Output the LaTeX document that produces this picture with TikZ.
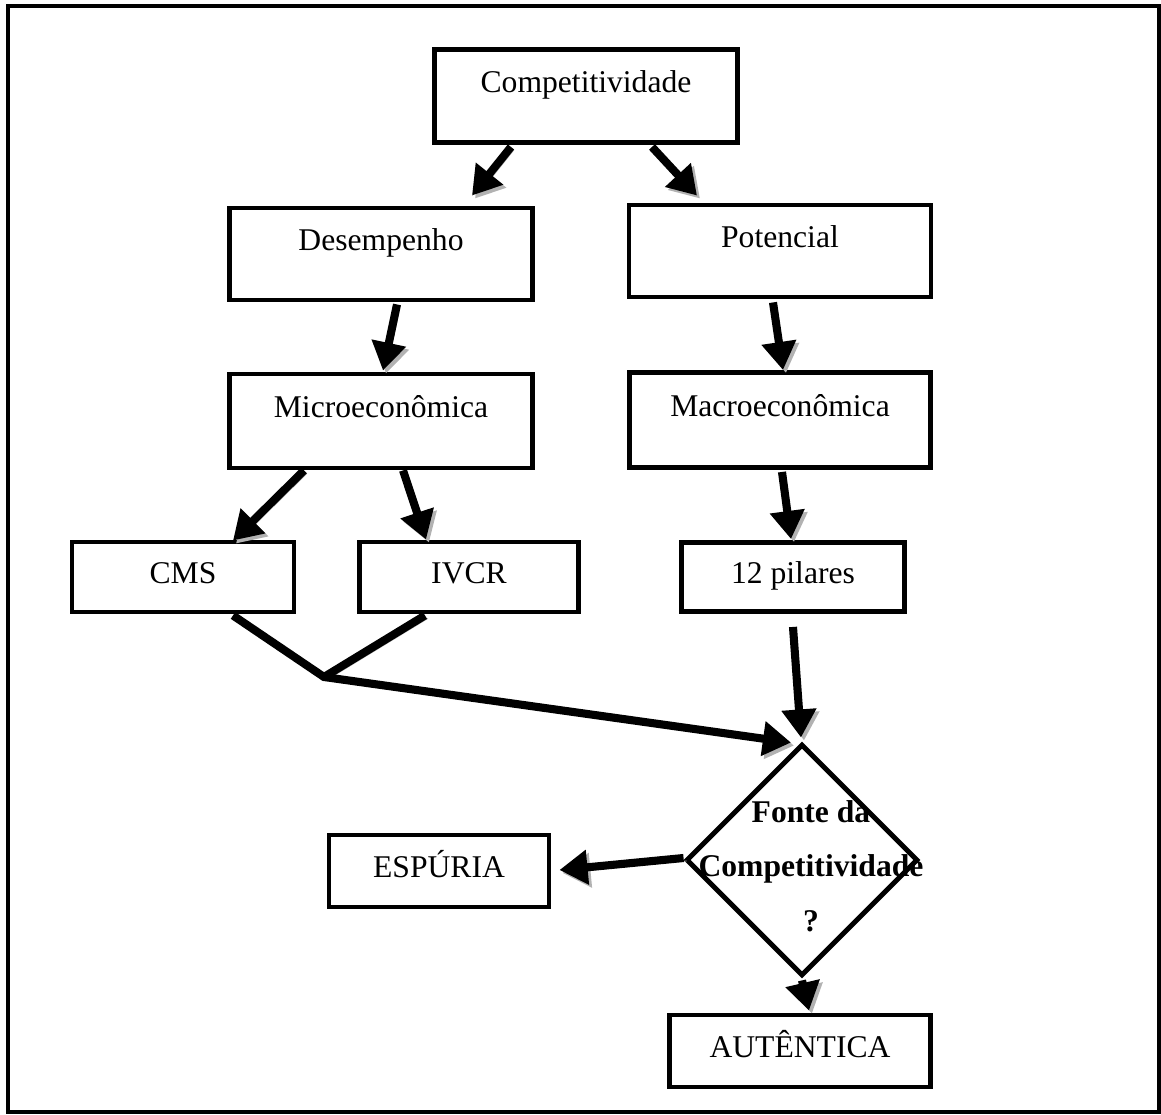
\documentclass[tikz,border=0pt]{standalone}
\usepackage{fontspec}
\setmainfont{Liberation Serif}
\usetikzlibrary{arrows.meta,shapes.geometric}

\begin{document}
\begin{tikzpicture}[x=0.02cm, y=-0.02cm, font=\fontsize{18}{22}\selectfont,
box/.style={draw, line width=2.8pt, inner sep=0pt, text height=12pt, text depth=16pt},
midbox/.style={box, text depth=4.5pt},
link/.style={line width=4.6pt, preaction={draw=gray!60, transform canvas={shift={(1.7pt,-1.7pt)}}}},
arrow/.style={link, -{Triangle[length=16pt, width=19pt]}}]
\useasboundingbox (0,0) rectangle (1161,1115);
\draw [line width=2.8pt] (8,6) rectangle (1159,1112);
% boxes: name/x/y/width/height/style/text
\foreach \name/\x/\y/\w/\h/\styl/\txt in {
  comp/586/96/303/93/box/Competitividade,
  desemp/381/254/303/92/box/Desempenho,
  pot/780/251/302/92/box/Potencial,
  micro/381/421/303/94/box/Microeconômica,
  macro/780/420/301/95/box/Macroeconômica,
  cms/183/577/222/70/midbox/CMS,
  ivcr/469/577/219/70/midbox/IVCR,
  pil/793/577/223/69/midbox/12 pilares,
  esp/439/871/220/72/midbox/ESPÚRIA,
  aut/800/1051/261/72/midbox/AUTÊNTICA%
} {
  \node [\styl, minimum width=\w*0.02cm, minimum height=\h*0.02cm] (\name) at (\x,\y) {\txt};
}
\node [diamond, draw, line width=2.8pt, inner sep=0pt, minimum width=4.64cm, minimum height=4.64cm,
  label={[font=\fontsize{18}{31}\selectfont\bfseries, align=center, shift={(9,6)}]center:Fonte da\\Competitividade\\?}] (fonte) at (802,860) {};
\draw [arrow] ([shift={(-75,2)}]comp.south) -- ([shift={(91,-10)}]desemp.north);
\draw [arrow] ([shift={(66,2)}]comp.south) -- ([shift={(-83,-7)}]pot.north);
\draw [arrow] ([shift={(16,2)}]desemp.south) -- ([shift={(2,-1)}]micro.north);
\draw [arrow] ([shift={(-7,3)}]pot.south) -- ([shift={(3,0)}]macro.north);
\draw [arrow] ([shift={(-77,0)}]micro.south) -- ([shift={(50,1)}]cms.north);
\draw [arrow] ([shift={(22,0)}]micro.south) -- ([shift={(-43,0)}]ivcr.north);
\draw [arrow] ([shift={(2,2)}]macro.south) -- ([shift={(-2,-1)}]pil.north);
\coordinate (junc) at (324,677);
\draw [link] ([shift={(-44,1)}]ivcr.south) -- (junc);
\draw [arrow] ([shift={(50,1)}]cms.south) -- (junc) -- ([shift={(-11,1)}]fonte.north);
\draw [arrow] ([shift={(0,13)}]pil.south) -- ([shift={(-1,-4)}]fonte.north);
\draw [arrow] ([shift={(0,-2)}]fonte.west) -- ([shift={(8,-1)}]esp.east);
\draw [arrow] ([shift={(0,2)}]fonte.south) -- ([shift={(9,-2)}]aut.north);
\end{tikzpicture}
\end{document}
